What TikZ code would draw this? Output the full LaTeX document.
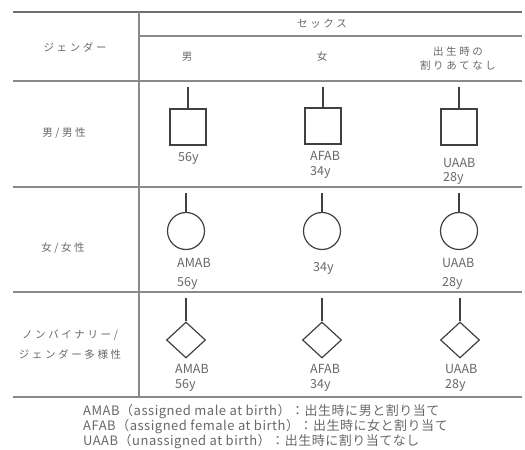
\documentclass[tikz,border=0pt]{standalone}
\usepackage{fontspec}
\setmainfont{Noto Sans CJK JP}
\newfontfamily\jpsp{Noto Sans CJK JP}[LetterSpace=25]
\newfontfamily\jpleg{Noto Sans CJK JP}[LetterSpace=4]
\usetikzlibrary{shapes.geometric}
\definecolor{rulec}{HTML}{8A8A8A}
\definecolor{shapec}{HTML}{404040}
\definecolor{txtc}{HTML}{686868}
\tikzset{
  rule/.style={draw=rulec, line width=1.3bp},
  toprule/.style={draw=rulec!80!black, line width=1.5bp},
  stem/.style={draw=shapec, line width=1.1bp},
  sq/.style={draw=shapec, line width=1.2bp, rectangle, minimum width=36bp, minimum height=36bp, inner sep=0pt},
  circ/.style={draw=shapec, line width=1.2bp, circle, minimum size=37bp, inner sep=0pt},
  dia/.style={draw=shapec, line width=1.2bp, diamond, minimum width=39bp, minimum height=36bp, inner sep=0pt},
  hdr/.style={text=txtc, font=\jpsp\fontsize{10.5bp}{13bp}\selectfont, align=center, inner sep=0pt},
  lab/.style={text=txtc, font=\fontsize{12.5bp}{14bp}\selectfont, anchor=west, inner sep=0pt},
  leg/.style={text=txtc, font=\jpleg\fontsize{13bp}{14bp}\selectfont, anchor=west, inner sep=0pt},
}
\begin{document}
\begin{tikzpicture}[x=1bp,y=-1bp]
\useasboundingbox (0,0) rectangle (525,450);
% table rules
\coordinate (tl) at (13,12);   \coordinate (tr) at (522,12);
\coordinate (vt) at (139,12);  \coordinate (vb) at (139,397);
\coordinate (sl) at (139,36);  \coordinate (sr) at (522,36);
\coordinate (hl) at (13,81);   \coordinate (hr) at (522,81);
\coordinate (al) at (13,187);  \coordinate (ar) at (522,187);
\coordinate (bl) at (13,292);  \coordinate (br) at (522,292);
\coordinate (cl) at (13,397);  \coordinate (cr) at (522,397);
\draw[toprule] (tl) -- (tr);
\draw[rule] (vt) -- (vb);
\draw[rule] (sl) -- (sr);
\draw[rule] (hl) -- (hr);
\draw[rule] (al) -- (ar);
\draw[rule] (bl) -- (br);
\draw[rule] (cl) -- (cr);
% headers
\node[hdr] (hg) at (75,47) {ジェンダー};
\node[hdr] (hs) at (322,24) {セックス};
\node[hdr] (hm) at (187,57) {男};
\node[hdr] (hf) at (322,57) {女};
\node[hdr] (hu) at (458,58) {出生時の\\[1bp]割りあてなし};
% row labels
\node[hdr] (r1) at (64,133) {男/男性};
\node[hdr] (r2) at (63,248) {女/女性};
\node[hdr] (r3) at (70,345) {ノンバイナリー/\\[7bp]ジェンダー多様性};
% row 1: squares
\coordinate (t11) at (188,87); \node[sq] (s11) at (188,127) {}; \draw[stem] (t11) -- (s11.north);
\coordinate (t12) at (323,87); \node[sq] (s12) at (323,126) {}; \draw[stem] (t12) -- (s12.north);
\coordinate (t13) at (459,87); \node[sq] (s13) at (459,127) {}; \draw[stem] (t13) -- (s13.north);
\node[lab] (l11b) at (178,158) {56y};
\node[lab] (l12a) at (310,156) {AFAB};
\node[lab] (l12b) at (310,172) {34y};
\node[lab] (l13a) at (443,163) {UAAB};
\node[lab] (l13b) at (443,178) {28y};
% row 2: circles
\coordinate (t21) at (186,193); \node[circ] (s21) at (186,231) {}; \draw[stem] (t21) -- (s21.north);
\coordinate (t22) at (322,193); \node[circ] (s22) at (322,231) {}; \draw[stem] (t22) -- (s22.north);
\coordinate (t23) at (459,193); \node[circ] (s23) at (459,231) {}; \draw[stem] (t23) -- (s23.north);
\node[lab] (l21a) at (177,263) {AMAB};
\node[lab] (l21b) at (177,283) {56y};
\node[lab] (l22b) at (313,268) {34y};
\node[lab] (l23a) at (442,263) {UAAB};
\node[lab] (l23b) at (442,283) {28y};
% row 3: diamonds
\coordinate (t31) at (186,298); \node[dia] (s31) at (186,340) {}; \draw[stem] (t31) -- (s31.north);
\coordinate (t32) at (322,298); \node[dia] (s32) at (322,340) {}; \draw[stem] (t32) -- (s32.north);
\coordinate (t33) at (460,298); \node[dia] (s33) at (460,340) {}; \draw[stem] (t33) -- (s33.north);
\node[lab] (l31a) at (175,369) {AMAB};
\node[lab] (l31b) at (175,385) {56y};
\node[lab] (l32a) at (310,369) {AFAB};
\node[lab] (l32b) at (310,385) {34y};
\node[lab] (l33a) at (445,369) {UAAB};
\node[lab] (l33b) at (445,385) {28y};
% legend
\node[leg] (g1) at (83,412) {AMAB（assigned male at birth）：出生時に男と割り当て};
\node[leg] (g2) at (83,427) {AFAB（assigned female at birth）：出生時に女と割り当て};
\node[leg] (g3) at (83,442) {UAAB（unassigned at birth）：出生時に割り当てなし};
\end{tikzpicture}
\end{document}
